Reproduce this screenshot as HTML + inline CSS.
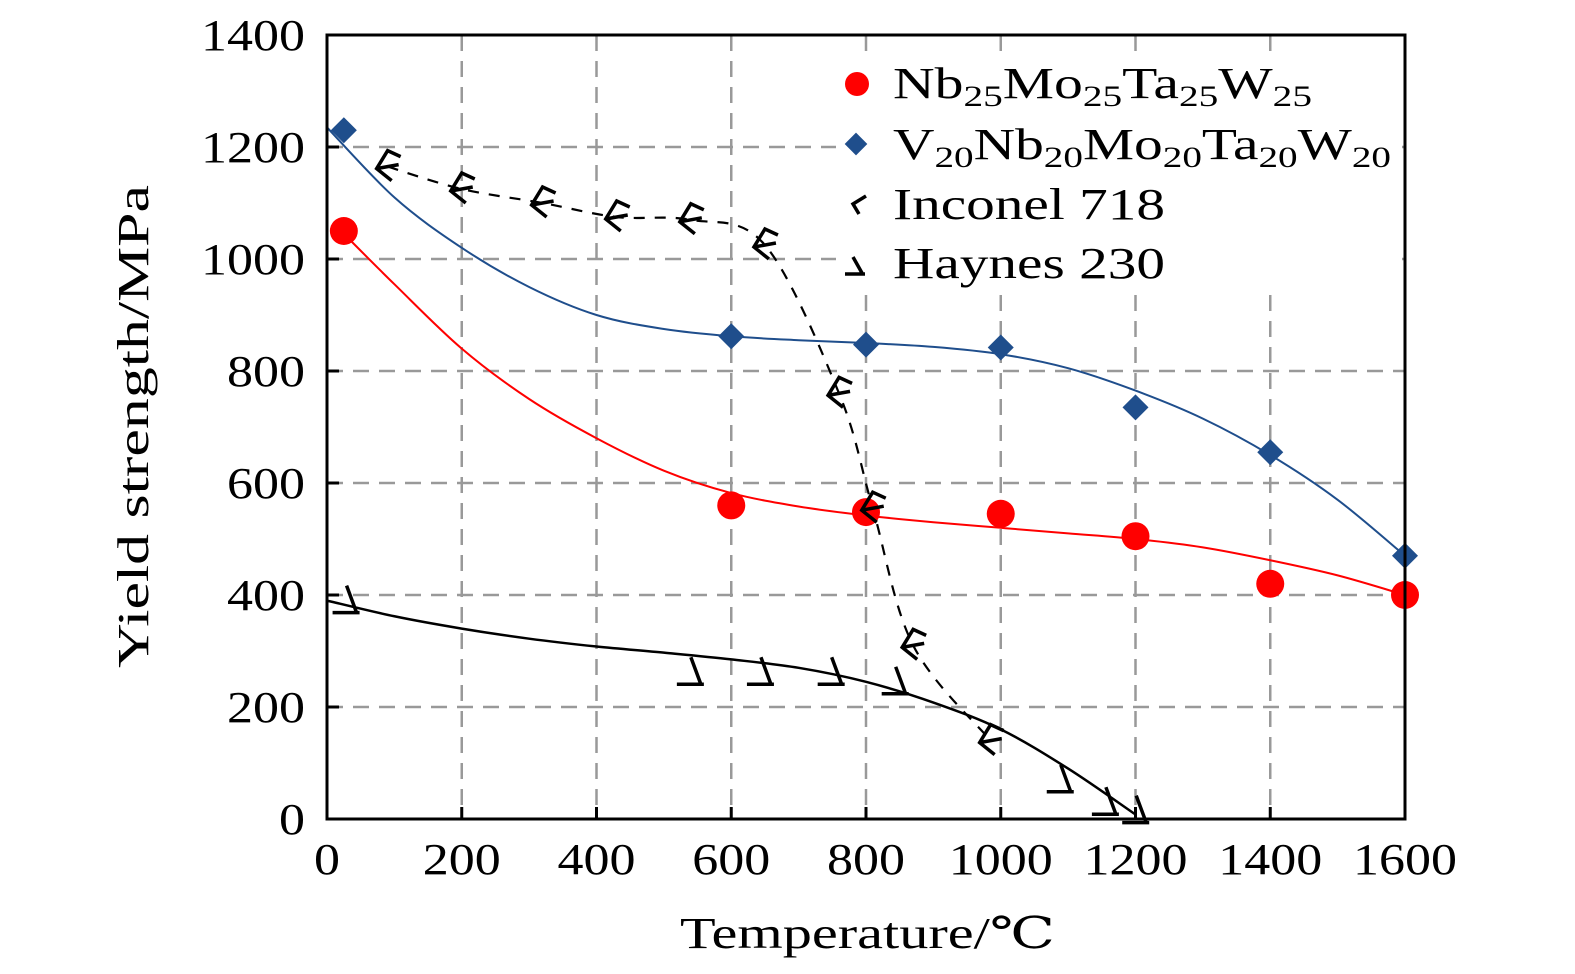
<!DOCTYPE html>
<html><head><meta charset="utf-8"><style>
html,body{margin:0;padding:0;background:#fff;}
svg{display:block;font-family:"Liberation Serif","DejaVu Serif",serif;}
</style></head><body>
<svg id="chart" width="1575" height="974" viewBox="0 0 1575 974">
<g id="grid"></g>
<rect x="836" y="55" width="566" height="235" fill="#fff"/>
<g id="series"></g>
<rect x="327" y="35" width="1078" height="784" fill="none" stroke="#000" stroke-width="3"/>
<g id="ticks"></g>
<g font-size="44">
 <g><circle cx="857" cy="84" r="12" fill="#f00"/><text x="893" y="98" textLength="419" lengthAdjust="spacingAndGlyphs">Nb<tspan font-size="30" dy="8">25</tspan><tspan dy="-8">Mo</tspan><tspan font-size="30" dy="8">25</tspan><tspan dy="-8">Ta</tspan><tspan font-size="30" dy="8">25</tspan><tspan dy="-8">W</tspan><tspan font-size="30" dy="8">25</tspan></text></g>
 <g><rect x="848" y="136" width="16" height="16" fill="#1f4e8c" transform="rotate(45 856 144)"/><text x="893" y="159" textLength="498" lengthAdjust="spacingAndGlyphs">V<tspan font-size="30" dy="8">20</tspan><tspan dy="-8">Nb</tspan><tspan font-size="30" dy="8">20</tspan><tspan dy="-8">Mo</tspan><tspan font-size="30" dy="8">20</tspan><tspan dy="-8">Ta</tspan><tspan font-size="30" dy="8">20</tspan><tspan dy="-8">W</tspan><tspan font-size="30" dy="8">20</tspan></text></g>
 <g><path d="M866 196 L853 204 L859 214" fill="none" stroke="#000" stroke-width="3.5"/><text x="893" y="219" textLength="272" lengthAdjust="spacingAndGlyphs">Inconel 718</text></g>
 <g><path d="M853 257 L862 273 M845 274 L865 274" fill="none" stroke="#000" stroke-width="3.5"/><text x="893" y="278" textLength="272" lengthAdjust="spacingAndGlyphs">Haynes 230</text></g>
</g>
<text x="680" y="948" font-size="44" textLength="375" lengthAdjust="spacingAndGlyphs">Temperature/℃</text>
<text transform="translate(148 668) rotate(-90)" font-size="44" textLength="483" lengthAdjust="spacingAndGlyphs">Yield strength/MPa</text>
</svg>
<script>
const xTicks=[0,200,400,600,800,1000,1200,1400,1600];
const yTicks=[0,200,400,600,800,1000,1200,1400];
const nbT=[25,600,800,1000,1200,1400,1600];
const nbV=[1050,560,548,545,505,420,400];
const nbFitT=[25,100,200,300,400,500,600,700,800,900,1000,1100,1200,1300,1400,1500,1600];
const nbFitV=[1045,955,840,750,680,622,582,558,542,530,520,510,500,485,462,435,400];
const vT=[25,600,800,1000,1200,1400,1600];
const vV=[1230,862,847,842,735,655,470];
const vFitT=[0,100,200,300,400,500,600,700,800,900,1000,1100,1200,1300,1400,1500,1600];
const vFitV=[1235,1110,1020,950,900,875,862,855,850,843,830,805,765,715,650,570,470];
const incT=[90,200,320,430,540,650,760,810,870,985];
const incV=[1165,1125,1100,1075,1070,1025,760,555,310,140];
const hayT=[35,546,650,755,850,1095,1162,1207];
const hayV=[390,262,262,262,245,70,30,15];
const hayFitT=[0,100,200,300,400,500,600,700,800,900,1000,1100,1200];
const hayFitV=[390,362,340,322,308,297,285,270,245,208,160,90,8];
const X=v=>327+v*1078/1600, Y=v=>819-v*784/1400;
const NS='http://www.w3.org/2000/svg';
function mk(tag,attrs,parent){const e=document.createElementNS(NS,tag);for(const k in attrs)e.setAttribute(k,attrs[k]);parent.appendChild(e);return e;}
const grid=document.getElementById('grid'),ticks=document.getElementById('ticks'),ser=document.getElementById('series');
xTicks.forEach(t=>{
 if(t>0&&t<1600){const l=mk('line',{x1:X(t),x2:X(t),y1:35,y2:819,stroke:'#999','stroke-width':2.5,'stroke-dasharray':'16 10'},grid);
 
 }
 const tk=mk('line',{x1:X(t),x2:X(t),y1:819,y2:807,stroke:'#000','stroke-width':3},ticks);
 
 
 const s=String(t);
 const tx=mk('text',{x:X(t)-s.length*13,y:874,'font-size':44,textLength:s.length*26,lengthAdjust:'spacingAndGlyphs'},ticks);tx.textContent=s;
 
 
});
yTicks.forEach(t=>{
 if(t>0&&t<1400){const l=mk('line',{x1:327,x2:1405,y1:Y(t),y2:Y(t),stroke:'#999','stroke-width':2.5,'stroke-dasharray':'16 10'},grid);
 
 }
 const tk=mk('line',{x1:327,x2:339,y1:Y(t),y2:Y(t),stroke:'#000','stroke-width':3},ticks);
 
 
 const s=String(t);
 const tx=mk('text',{x:305-s.length*26,y:Y(t)+15,'font-size':44,textLength:s.length*26,lengthAdjust:'spacingAndGlyphs'},ticks);tx.textContent=s;
 
 
});
function curve(T,V,stroke,w,dash,name){
 let d='';for(let i=0;i<T.length;i++){const x=X(T[i]),y=Y(V[i]);
  if(i===0)d='M'+x+' '+y;else{const x0=X(T[i-1]),y0=Y(V[i-1]);const xm=X(T[Math.max(i-2,0)]),ym=Y(V[Math.max(i-2,0)]);const xn=X(T[Math.min(i+1,T.length-1)]),yn=Y(V[Math.min(i+1,T.length-1)]);
  d+=' C'+(x0+(x-xm)/6)+' '+(y0+(y-ym)/6)+' '+(x-(xn-x0)/6)+' '+(y-(yn-y0)/6)+' '+x+' '+y;}}
 const p=mk('path',{d:d,fill:'none',stroke:stroke,'stroke-width':w},ser);if(dash)p.setAttribute('stroke-dasharray',dash);
 
 
}
curve(nbFitT,nbFitV,'#f00',2,null,'nb25-fit-line');
curve(vFitT,vFitV,'#1f4e8c',2,null,'v20-fit-line');
curve(incT,incV,'#000',2.2,'11 10','inconel-line');
curve(hayFitT,hayFitV,'#000',2.5,null,'haynes-line');
nbT.forEach((t,i)=>{const c=mk('circle',{cx:X(t),cy:Y(nbV[i]),r:14,fill:'#f00'},ser);
 
 });
vT.forEach((t,i)=>{const x=X(t),y=Y(vV[i]);const r=mk('path',{d:`M${x} ${y-13} L${x+13} ${y} L${x} ${y+13} L${x-13} ${y} Z`,fill:'#1f4e8c'},ser);
 
 });
incT.forEach((t,i)=>{const x=X(t),y=Y(incV[i]);const p=mk('path',{d:`M${x+13} ${y-10} L${x} ${y-16} L${x-11} ${y+2} L${x+4} ${y+14} M${x-11} ${y+2} L${x+11} ${y-2}`,fill:'none',stroke:'#000','stroke-width':3.5},ser);
 
 });
hayT.forEach((t,i)=>{const x=X(t),y=Y(hayV[i]);const p=mk('path',{d:`M${x-4} ${y-15} L${x+6} ${y+12} M${x-18} ${y+12} L${x+9} ${y+12}`,fill:'none',stroke:'#000','stroke-width':3.5},ser);
 
 });
</script>
</body></html>
